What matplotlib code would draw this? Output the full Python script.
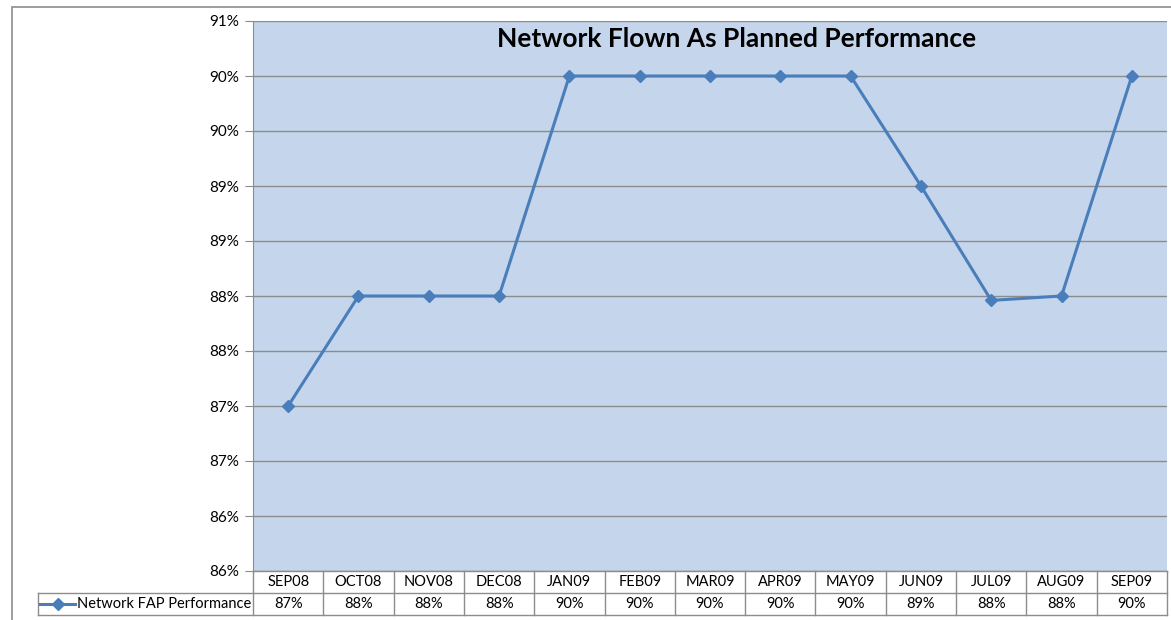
import matplotlib
matplotlib.use("Agg")
import matplotlib.pyplot as plt
from matplotlib.lines import Line2D
from matplotlib.patches import Rectangle
import math

plt.rcParams['font.family'] = ['Lato', 'DejaVu Sans']

months = ['SEP08', 'OCT08', 'NOV08', 'DEC08', 'JAN09', 'FEB09', 'MAR09',
          'APR09', 'MAY09', 'JUN09', 'JUL09', 'AUG09', 'SEP09']
fap = [87.0, 88.0, 88.0, 88.0, 90.0, 90.0, 90.0, 90.0, 90.0, 89.0, 87.96, 88.0, 90.0]
series_name = 'Network FAP Performance'
title = 'Network Flown As Planned Performance'
yticks = [85.5 + 0.5 * i for i in range(11)]

W, H = 1171, 620
fig = plt.figure(figsize=(W / 100, H / 100), dpi=100)

# outer chart border
fig.patches.append(Rectangle((12 / W, -0.05), 1.1, 1 - 7 / H + 0.05,
                             transform=fig.transFigure, fill=False,
                             edgecolor='#8c8c8c', lw=1.2))

ax = fig.add_axes([253 / W, (H - 571) / H, (1167 - 253) / W, 550 / H])
ax.set_facecolor('#C5D6EC')
ax.set_xlim(-0.5, len(months) - 0.5)
ax.set_ylim(85.5, 90.5)
ax.set_yticks(yticks)
ax.set_yticklabels([f"{math.floor(v + 0.5)}%" for v in yticks], fontsize=11)
ax.set_xticks([])
ax.yaxis.grid(True, color='#8c8c8c', lw=1)
ax.set_axisbelow(True)
ax.tick_params(axis='y', length=6, color='#8c8c8c', pad=4)
for s in ['top', 'right', 'bottom']:
    ax.spines[s].set_visible(False)
ax.spines['left'].set_color('#8c8c8c')

line_color = '#4A7EBB'
ax.plot(range(len(months)), fap, color=line_color, lw=2.2, marker='D',
        markersize=6, clip_on=False)

fig.text(737 / W, 1 - 39 / H, title, ha='center', va='center',
         fontsize=19, fontweight='bold')

# data table below the plot
tr = ax.get_xaxis_transform()
rh = 22 / 550
grid_kw = dict(color='#8c8c8c', lw=1, transform=tr, clip_on=False)
n = len(months)
left_x = -0.5 - (253 - 38) / (914 / n)
ax.add_line(Line2D([-0.5, n - 0.5], [0, 0], **grid_kw))
ax.add_line(Line2D([left_x, n - 0.5], [-rh, -rh], **grid_kw))
ax.add_line(Line2D([left_x, n - 0.5], [-2 * rh, -2 * rh], **grid_kw))
ax.add_line(Line2D([left_x, left_x], [-rh, -2 * rh], **grid_kw))
for i in range(n + 1):
    ax.add_line(Line2D([i - 0.5, i - 0.5], [0, -2 * rh], **grid_kw))
for i, (m, v) in enumerate(zip(months, fap)):
    ax.text(i, -0.5 * rh, m, transform=tr, ha='center', va='center', fontsize=10.5)
    ax.text(i, -1.5 * rh, f"{math.floor(v + 0.5)}%", transform=tr,
            ha='center', va='center', fontsize=10.5)

# legend key inside the row header cell
key_x0 = left_x + 0.03
key_x1 = key_x0 + 0.5
ax.add_line(Line2D([key_x0, key_x1], [-1.5 * rh, -1.5 * rh], color=line_color,
                   lw=2.2, transform=tr, clip_on=False))
ax.add_line(Line2D([(key_x0 + key_x1) / 2], [-1.5 * rh], color=line_color,
                   marker='D', markersize=6, transform=tr, clip_on=False))
ax.text(key_x1 + 0.02, -1.5 * rh, series_name, transform=tr, ha='left',
        va='center', fontsize=10.5)

fig.savefig('out.png', dpi=100)
